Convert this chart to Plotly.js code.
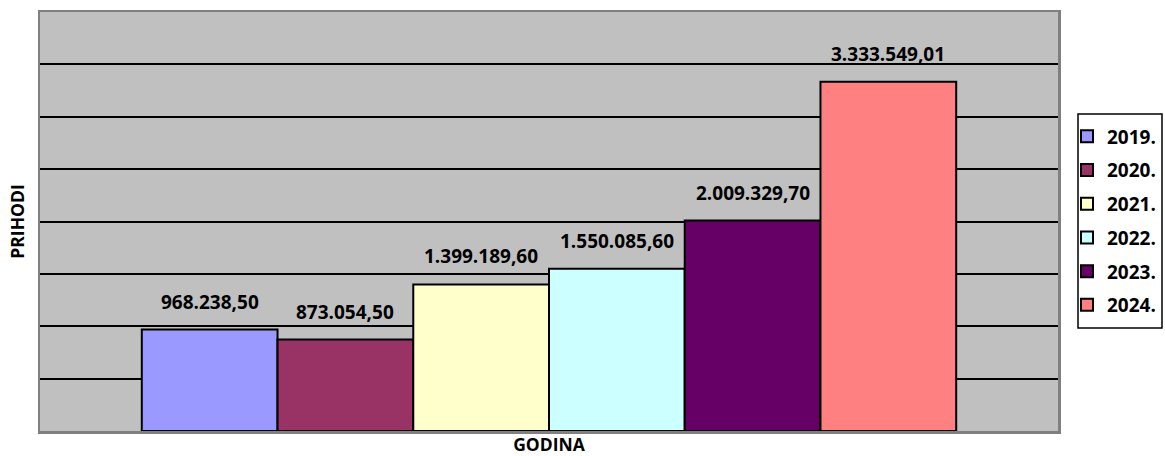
<!DOCTYPE html>
<html>
<head>
<meta charset="utf-8">
<script src="https://cdn.plot.ly/plotly-3.0.1.min.js"></script>
<style>html,body{margin:0;padding:0;background:#fff;}#chart{width:1165px;height:456px;}</style>
</head>
<body>
<div id="chart"></div>
<script>
var years = ["2019.", "2020.", "2021.", "2022.", "2023.", "2024."];
var values = [968238.50, 873054.50, 1399189.60, 1550085.60, 2009329.70, 3333549.01];
var labels = ["968.238,50", "873.054,50", "1.399.189,60", "1.550.085,60", "2.009.329,70", "3.333.549,01"];
var colors = ["#9999FF", "#993366", "#FFFFCC", "#CCFFFF", "#660066", "#FF8080"];
var category = "GODINA";

var font = "Open Sans, Liberation Sans, sans-serif";
var bargap = 0.2;
var n = years.length;

var traces = years.map(function (y, i) {
  return {
    type: "bar",
    name: y,
    x: [category],
    y: [values[i]],
    marker: {color: colors[i], line: {color: "#000", width: 2}},
    legendgroup: "g" + i,
    hoverinfo: "none"
  };
});

// value labels placed over each bar of the group
var groupW = 1 - bargap;
var annotations = years.map(function (y, i) {
  return {
    xref: "x", yref: "y",
    x: -groupW / 2 + (i + 0.5) * groupW / n,
    y: values[i],
    text: labels[i],
    showarrow: false,
    xanchor: "center", yanchor: "bottom",
    yshift: 13,
    font: {family: font, size: 19, color: "#000", weight: "bold"}
  };
});

var layout = {
  width: 1165, height: 456,
  margin: {l: 40, r: 107, t: 12, b: 25},
  paper_bgcolor: "#fff",
  plot_bgcolor: "#C0C0C0",
  barmode: "group",
  bargap: bargap,
  bargroupgap: 0,
  showlegend: true,
  font: {family: font, color: "#000"},
  annotations: annotations,
  xaxis: {
    showticklabels: false, ticks: "",
    showline: true, mirror: true, linecolor: "#808080", linewidth: 2.5,
    title: {text: "GODINA", font: {size: 17.5, weight: "bold", family: font}, standoff: 13}
  },
  yaxis: {
    range: [0, 4000000], dtick: 500000,
    showticklabels: false, ticks: "",
    showgrid: true, gridcolor: "#000", gridwidth: 2,
    zeroline: false,
    showline: true, mirror: true, linecolor: "#808080", linewidth: 2.5,
    title: {text: "PRIHODI", font: {size: 17.5, weight: "bold", family: font}, standoff: 9}
  },
  shapes: [{
    type: "rect", xref: "paper", yref: "paper",
    x0: (1078 - 40) / 1018, x1: (1162 - 40) / 1018,
    y0: (431 - 328) / 419, y1: (431 - 114) / 419,
    line: {color: "#000", width: 1.5}, fillcolor: "#fff", layer: "above"
  }],
  legend: {
    xref: "container", yref: "container",
    x: 1067 / 1165, xanchor: "left",
    y: 1 - 221 / 456, yanchor: "middle",
    bgcolor: "rgba(0,0,0,0)", borderwidth: 0,
    font: {size: 19, weight: "bold", family: font},
    traceorder: "grouped", tracegroupgap: 6,
    itemwidth: 30
  }
};

Plotly.newPlot("chart", traces, layout, {displayModeBar: false, staticPlot: true});
</script>
</body>
</html>
